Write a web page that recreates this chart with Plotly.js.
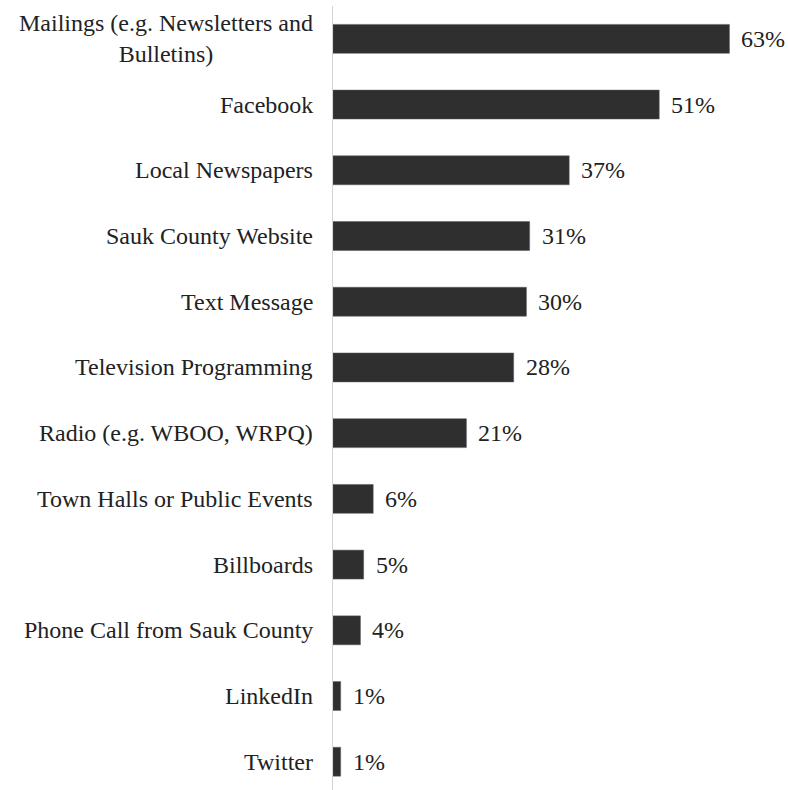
<!DOCTYPE html>
<html><head><meta charset="utf-8">
<script src="https://cdn.plot.ly/plotly-3.0.1.min.js"></script>
<style>html,body{margin:0;padding:0;background:#fff}</style>
</head><body>
<div id="chart" style="width:788px;height:790px"></div>
<script>
const categories = [
  "Mailings (e.g. Newsletters and<br>Bulletins)",
  "Facebook",
  "Local Newspapers",
  "Sauk County Website",
  "Text Message",
  "Television Programming",
  "Radio (e.g. WBOO, WRPQ)",
  "Town Halls or Public Events",
  "Billboards",
  "Phone Call from Sauk County",
  "LinkedIn",
  "Twitter"
];
// bar lengths (percent)
const values = [62.1, 51.1, 37.0, 30.8, 30.3, 28.3, 20.9, 6.3, 4.8, 4.3, 1.2, 1.2];
// printed labels
const valueLabels = ["63%", "51%", "37%", "31%", "30%", "28%", "21%", "6%", "5%", "4%", "1%", "1%"];

const font = {family: "Liberation Serif, Times New Roman, serif", size: 24, color: "#222222"};

const trace = {
  type: "bar",
  orientation: "h",
  x: values,
  y: categories.map((c, i) => i),
  marker: {color: "#2f2f2f", line: {color: "#5a5a5a", width: 0.5}},
  width: 0.44,
  hoverinfo: "skip"
};

const annotations = [];
categories.forEach((c, i) => {
  annotations.push({
    xref: "paper", yref: "y", x: 0, y: i, text: c,
    xanchor: "right", yanchor: "middle", align: "center",
    xshift: -18, showarrow: false, font: font
  });
  annotations.push({
    xref: "x", yref: "y", x: values[i], y: i, text: valueLabels[i],
    xanchor: "left", yanchor: "middle", xshift: 10,
    showarrow: false, font: font
  });
});

const layout = {
  width: 788, height: 790,
  margin: {l: 333, r: 0, t: 6, b: 0},
  paper_bgcolor: "#fff", plot_bgcolor: "#fff",
  showlegend: false,
  xaxis: {range: [0, 71.27], visible: false, fixedrange: true},
  yaxis: {
    range: [11.43, -0.5], autorange: false,
    showticklabels: false, ticks: "", showgrid: false, zeroline: false,
    showline: true, linecolor: "#d4d4d4", linewidth: 1
  },
  annotations: annotations
};

Plotly.newPlot("chart", [trace], layout, {displayModeBar: false, staticPlot: true});
</script>
</body></html>
